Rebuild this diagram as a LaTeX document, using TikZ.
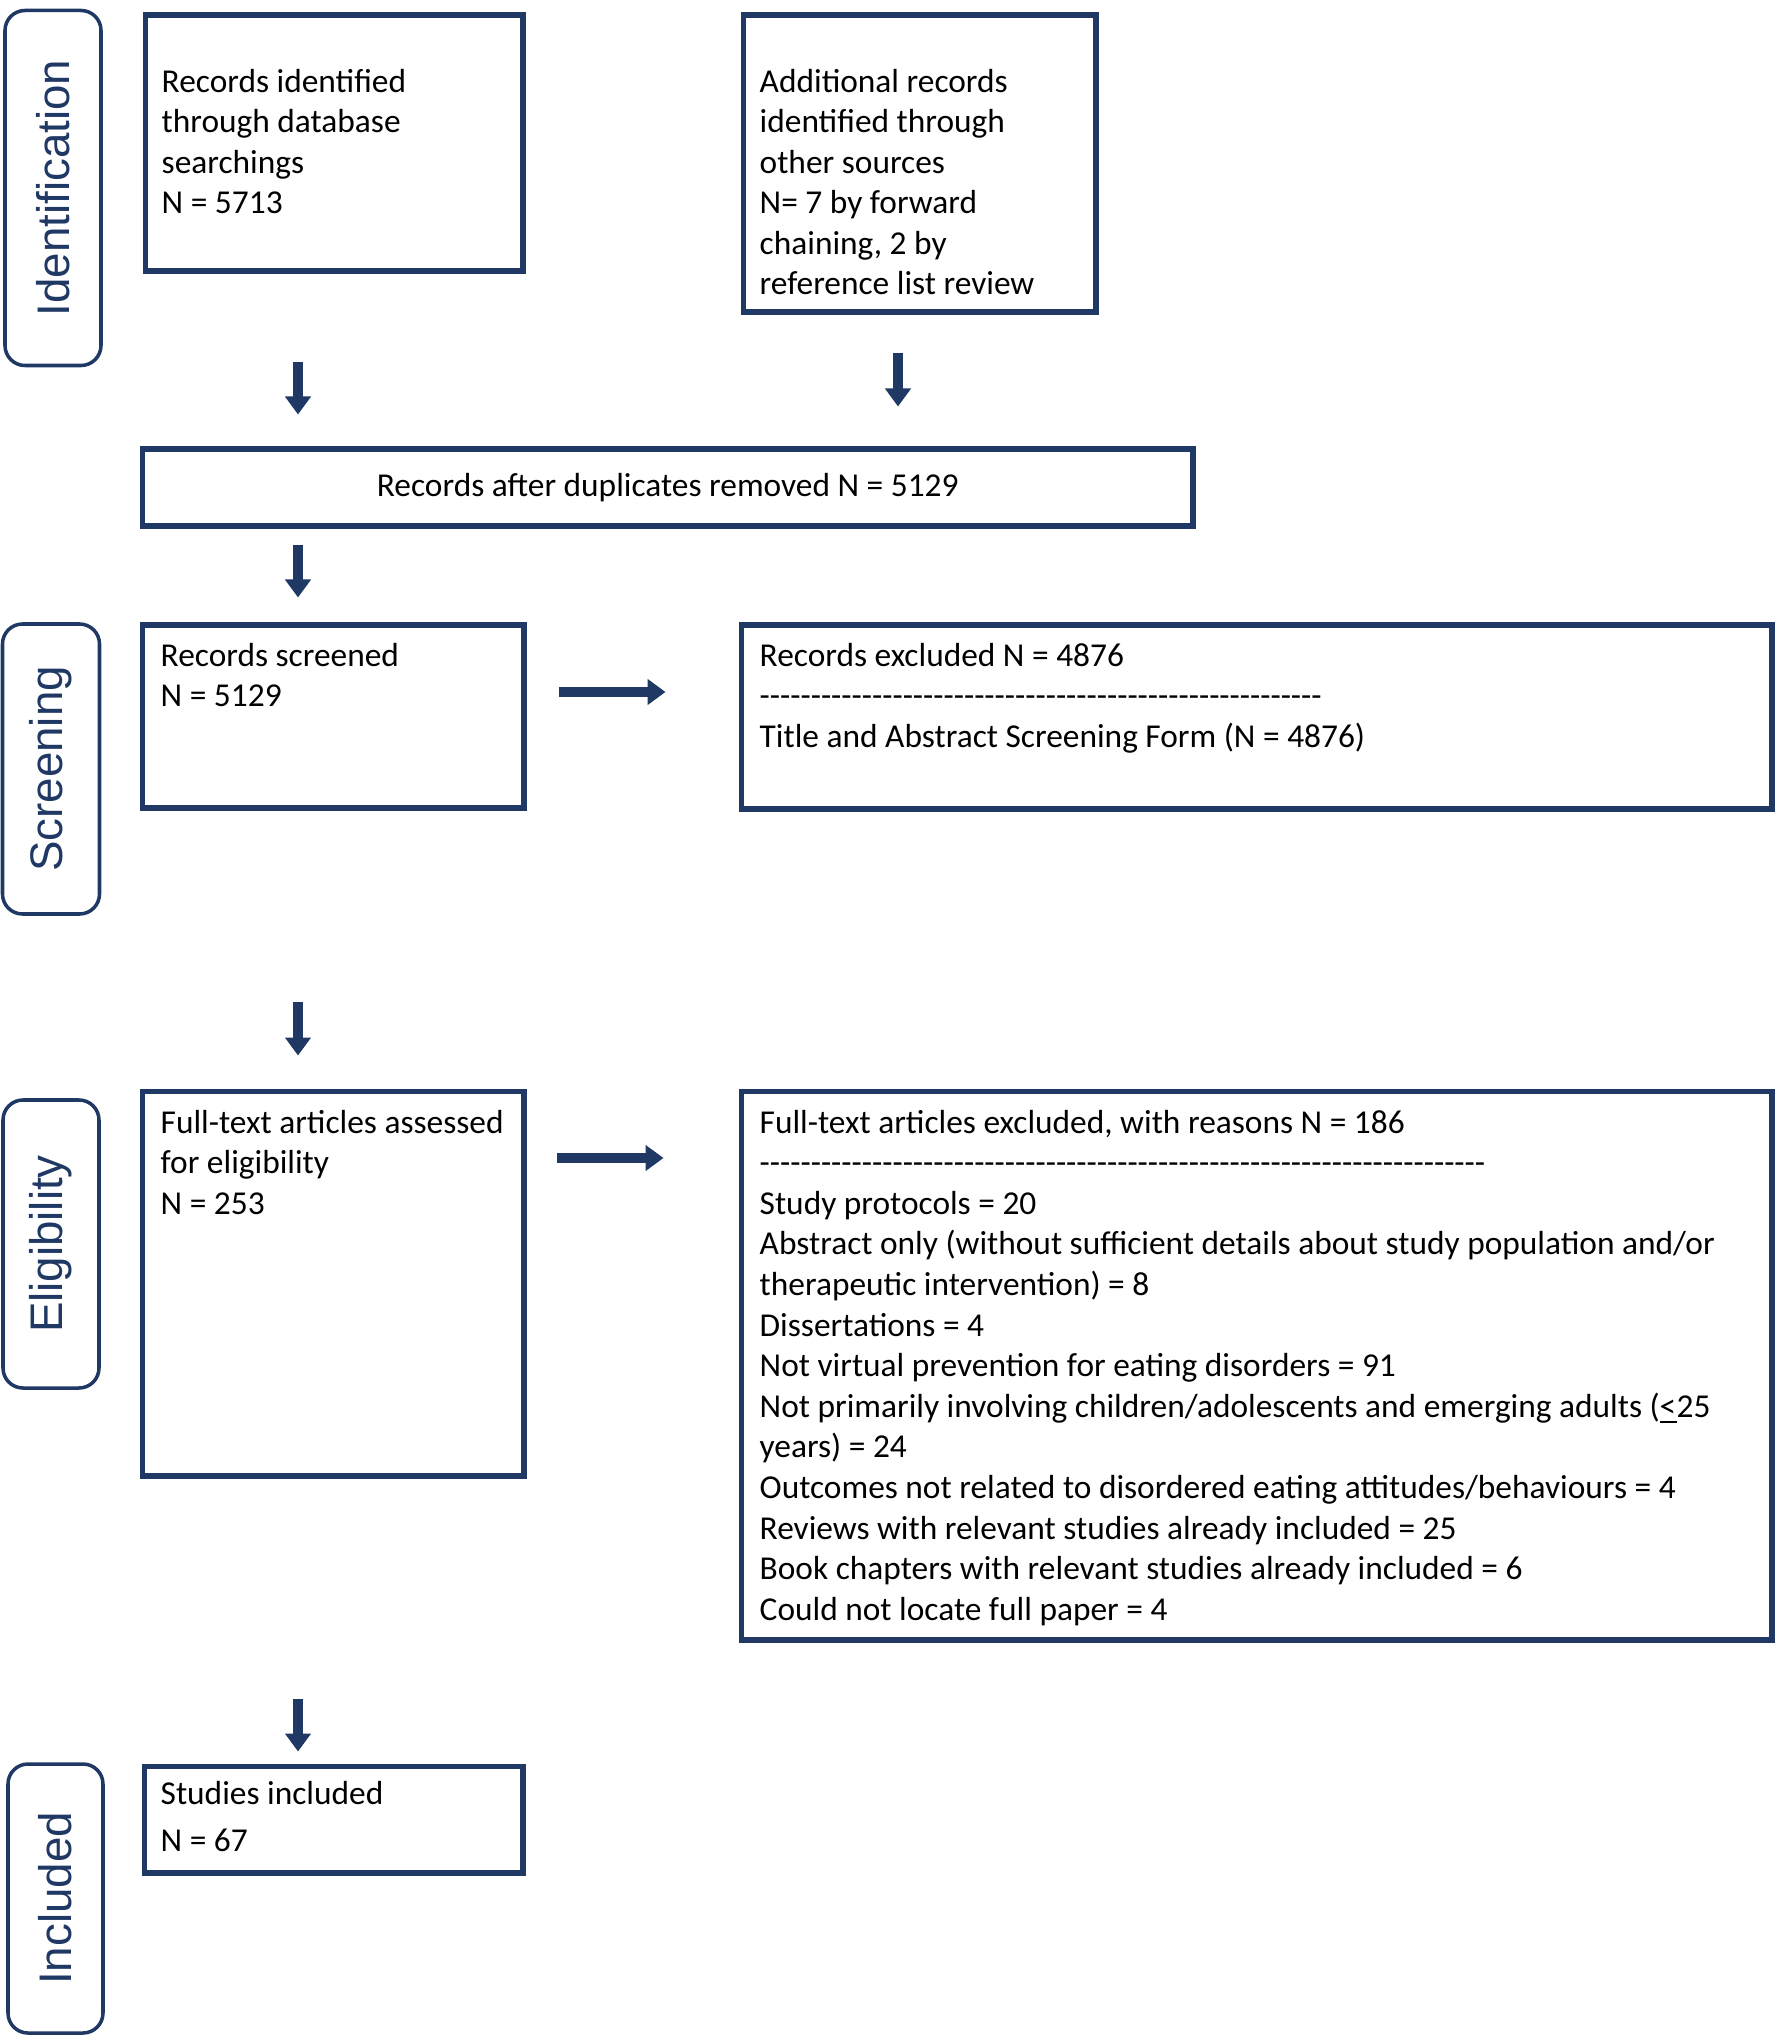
\documentclass[tikz,border=0pt]{standalone}
\usepackage{fontspec}
\setmainfont{Carlito}
\newfontfamily\stagefont{Liberation Sans}
\usetikzlibrary{arrows.meta}
\definecolor{prismablue}{RGB}{31,56,100}
\newcommand{\dashrow}[1]{\foreach \k in {1,...,#1}{-\kern0pt}}

\begin{document}
\begin{tikzpicture}[
    box/.style={draw=prismablue, line width=1.7pt, anchor=north west, inner sep=0pt},
    stage/.style={draw=prismablue, line width=1pt, rounded corners=0.2cm, rotate=90, text=prismablue, font=\stagefont\fontsize{13}{15}\selectfont},
    txt/.style={anchor=base west, align=left, inner sep=0pt, font=\fontsize{9.5}{11.55}\selectfont},
    flow/.style={prismablue, line width=0.1cm, -{Triangle[length=0.18cm,width=0.25cm]}}
]
    \useasboundingbox (0,0) rectangle (17.76,-20.36);

    % stages
    \node[stage, minimum width=3.55cm, minimum height=0.96cm] (sid) at (0.53,-1.88) {Identification};
    \node[stage, minimum width=2.90cm, minimum height=0.97cm] (sscr) at (0.51,-7.69) {Screening};
    \node[stage, minimum width=2.88cm, minimum height=0.96cm] (selig) at (0.51,-12.44) {Eligibility};
    \node[stage, minimum width=2.69cm, minimum height=0.95cm] (sinc) at (0.555,-18.985) {Included};

    % boxes
    \node[box, minimum width=3.775cm, minimum height=2.555cm] (rid) at (1.425,-0.125) {};
    \node[box, minimum width=3.525cm, minimum height=2.965cm] (add) at (7.405,-0.125) {};
    \node[box, minimum width=10.505cm, minimum height=0.765cm, font=\fontsize{9.5}{11.55}\selectfont] (dup) at (1.395,-4.465) {Records after duplicates removed N = 5129};
    \node[box, minimum width=3.815cm, minimum height=1.825cm] (scr) at (1.395,-6.225) {};
    \node[box, minimum width=10.305cm, minimum height=1.835cm] (ex1) at (7.385,-6.225) {};
    \node[box, minimum width=3.815cm, minimum height=3.845cm] (ful) at (1.395,-10.885) {};
    \node[box, minimum width=10.305cm, minimum height=5.485cm] (ex2) at (7.385,-10.885) {};
    \node[box, minimum width=3.785cm, minimum height=1.065cm] (inc) at (1.415,-17.635) {};

    % texts (placed by the baseline of their last line)
    \node[txt] (ridtxt) at ([shift={(0.185,-2.013)}]rid.north west) {Records identified\\through database\\searchings\\N = 5713};
    \node[txt] (addtxt) at ([shift={(0.185,-2.825)}]add.north west) {Additional records\\identified through\\other sources\\N= 7 by forward\\chaining, 2 by\\reference list review};
    \node[txt] (scrtxt) at ([shift={(0.205,-0.841)}]scr.north west) {Records screened\\N = 5129};
    \node[txt] (ex1txt) at ([shift={(0.205,-1.247)}]ex1.north west) {Records excluded N = 4876\\\dashrow{55}\\Title and Abstract Screening Form (N = 4876)};
    \node[txt] (fultxt) at ([shift={(0.205,-1.257)}]ful.north west) {Full-text articles assessed\\for eligibility\\N = 253};
    \node[txt] (ex2txt) at ([shift={(0.205,-5.317)}]ex2.north west) {Full-text articles excluded, with reasons N = 186\\
        \dashrow{71}\\
        Study protocols = 20\\
        Abstract only (without sufficient details about study population and/or\\
        therapeutic intervention) = 8\\
        Dissertations = 4\\
        Not virtual prevention for eating disorders = 91\\
        Not primarily involving children/adolescents and emerging adults (\underline{<}25\\
        years) = 24\\
        Outcomes not related to disordered eating attitudes/behaviours = 4\\
        Reviews with relevant studies already included = 25\\
        Book chapters with relevant studies already included = 6\\
        Could not locate full paper = 4};
    \node[txt] (inctxt) at ([shift={(0.185,-0.875)}]inc.north west) {Studies included\\[1.8pt]N = 67};

    % arrows
    \coordinate (colL) at (2.98,0);
    \coordinate (colR) at (8.98,0);
    \coordinate (rowA) at (0,-6.92);
    \coordinate (rowB) at (0,-11.58);
    \draw[flow, shorten <=0.88cm, shorten >=0.32cm] (rid.south -| colL) -- (dup.north -| colL);
    \draw[flow, shorten <=0.38cm, shorten >=0.40cm] (add.south -| colR) -- (dup.north -| colR);
    \draw[flow, shorten <=0.16cm, shorten >=0.25cm] (dup.south -| colL) -- (scr.north -| colL);
    \draw[flow, shorten <=0.32cm, shorten >=0.73cm] (scr.east |- rowA) -- (ex1.west |- rowA);
    \draw[flow, shorten <=1.91cm, shorten >=0.33cm] (scr.south -| colL) -- (ful.north -| colL);
    \draw[flow, shorten <=0.30cm, shorten >=0.75cm] (ful.east |- rowB) -- (ex2.west |- rowB);
    \draw[flow, shorten <=2.20cm, shorten >=0.12cm] (ful.south -| colL) -- (inc.north -| colL);
\end{tikzpicture}
\end{document}
